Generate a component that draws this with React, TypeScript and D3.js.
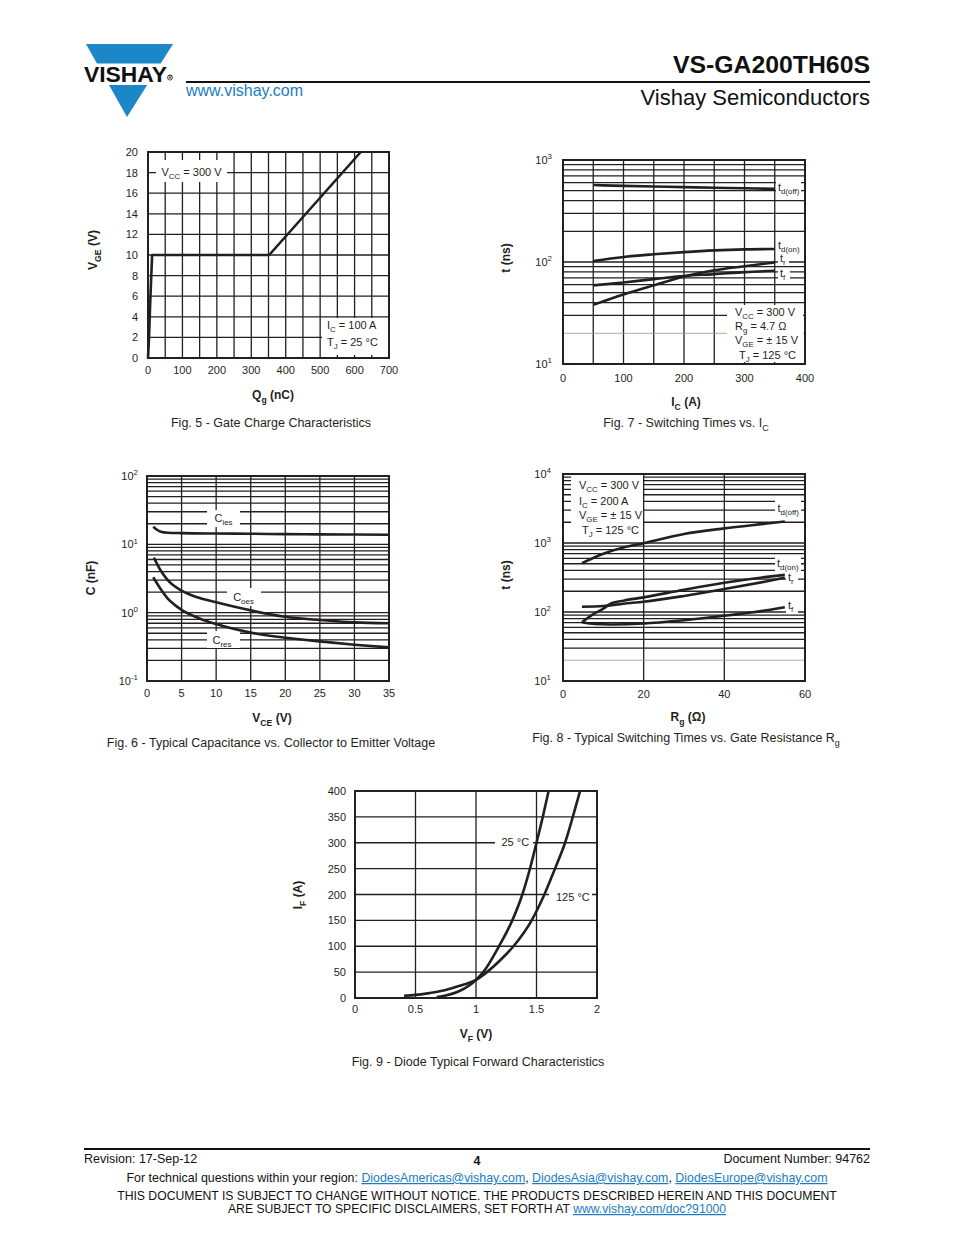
import React from "react";
import * as d3 from "d3";

const FONT = "'Liberation Sans', Arial, Helvetica, sans-serif";
const INK = "#231f20";
const BLUE = "#1b86c8";
const LINK = "#1a7cc2";

// ---------- Fig. 5 Gate charge ----------
const fig5Qg = [0, 3, 6, 12, 352, 618];
const fig5Vge = [0, 2, 5, 10, 10, 20];
const fig5XTicks = [0, 100, 200, 300, 400, 500, 600, 700];
const fig5YTicks = [0, 2, 4, 6, 8, 10, 12, 14, 16, 18, 20];
const fig5XGrid = [50, 100, 150, 200, 250, 300, 350, 400, 450, 500, 550, 600, 650];

// ---------- Fig. 7 Switching times vs IC ----------
const fig7Ic = [50, 100, 150, 200, 250, 300, 350];
const fig7TdOff = [568, 558, 550, 542, 535, 528, 522];
const fig7TdOn = [102, 112, 119, 125, 130, 133, 134];
const fig7Tr = [38, 48, 59, 72, 83, 91, 99];
const fig7Tf = [59, 63, 68, 73, 76, 79.5, 82];
const fig7XTicks = [0, 100, 200, 300, 400];
const fig7XGrid = [50, 100, 150, 200, 250, 300, 350];
const fig7Exps = [1, 2, 3];

// ---------- Fig. 6 Capacitance ----------
const fig6VcesIes = [0.9, 1.5, 2, 3, 5, 10, 15, 20, 25, 30, 35];
const fig6Cies = [18.1, 16.2, 15.3, 14.8, 14.6, 14.4, 14.3, 14.1, 14.0, 13.9, 13.8];
const fig6VceOes = [1, 2, 3, 5, 7.5, 10, 15, 20, 25, 30, 35];
const fig6Coes = [6.4, 4.1, 3.0, 2.1, 1.65, 1.42, 1.08, 0.87, 0.78, 0.72, 0.7];
const fig6VceRes = [0.9, 2, 3, 4, 5, 7.5, 10, 15, 20, 25, 30, 35];
const fig6Cres = [3.3, 2.2, 1.6, 1.3, 1.1, 0.83, 0.68, 0.51, 0.43, 0.38, 0.34, 0.31];
const fig6XTicks = [0, 5, 10, 15, 20, 25, 30, 35];
const fig6XGrid = [5, 10, 15, 20, 25, 30];
const fig6Exps = [-1, 0, 1, 2];

// ---------- Fig. 8 Switching times vs Rg ----------
const fig8RgA = [4.7, 10, 15, 20, 30, 40, 50, 55];
const fig8TdOff = [510, 700, 860, 990, 1350, 1630, 1900, 2050];
const fig8TdOn = [119, 122, 132, 141, 171, 215, 275, 314];
const fig8RgTr = [4.7, 7.5, 10, 12, 15, 20, 30, 40, 50, 55];
const fig8Tr = [71, 93, 112, 134, 146, 163, 210, 265, 320, 345];
const fig8RgTf = [4.7, 8, 12, 20, 30, 40, 50, 55];
const fig8Tf = [71, 67, 66, 68, 76, 88, 105, 117];
const fig8XTicks = [0, 20, 40, 60];
const fig8XGrid = [20, 40];
const fig8Exps = [1, 2, 3, 4];

// ---------- Fig. 9 Diode forward ----------
const fig9Vf25 = [0.675, 0.75, 0.85, 0.95, 1.0, 1.06, 1.19, 1.3, 1.383, 1.446, 1.5, 1.552, 1.6];
const fig9If25 = [2, 5, 12, 25, 35, 50, 100, 150, 200, 250, 300, 350, 400];
const fig9Vf125 = [0.405, 0.5, 0.6, 0.7, 0.8, 0.9, 1.0, 1.09, 1.2, 1.31, 1.46, 1.565, 1.653, 1.736, 1.8, 1.86];
const fig9If125 = [4.4, 6, 9, 13, 19, 26, 35, 50, 73, 100, 150, 200, 250, 300, 350, 400];
const fig9XTicks = [0, 0.5, 1, 1.5, 2];
const fig9YTicks = [0, 50, 100, 150, 200, 250, 300, 350, 400];
const fig9XGrid = [0.5, 1, 1.5];

type Part = string | { sub: string } | { sup: string };

function Rich({ parts, fs }: { parts: Part[]; fs: number }) {
  let shift = 0;
  const out: any[] = [];
  parts.forEach((p, i) => {
    let target = 0;
    let text = "";
    let size = fs;
    if (typeof p === "string") {
      text = p;
    } else if ("sub" in p) {
      text = p.sub;
      target = fs * 0.3;
      size = fs * 0.72;
    } else {
      text = p.sup;
      target = -fs * 0.42;
      size = fs * 0.72;
    }
    const dy = target - shift;
    shift = target;
    out.push(
      <tspan key={i} dy={dy !== 0 ? dy : undefined} fontSize={size}>
        {text}
      </tspan>
    );
  });
  return <>{out}</>;
}

type Ann = {
  box?: [number, number, number, number];
  lines: { x: number; y: number; parts: Part[]; anchor?: string }[];
};

type Series = { x: number[]; y: number[] };

function logGrid(exps: number[]) {
  const vals: number[] = [];
  for (let i = 0; i < exps.length - 1; i++) {
    for (let m = 1; m <= 9; m++) vals.push(m * Math.pow(10, exps[i]));
  }
  return vals;
}

function Panel(props: {
  box: { l: number; r: number; t: number; b: number };
  xDomain: [number, number];
  yDomain: [number, number];
  yLog?: boolean;
  xGrid: number[];
  yGrid: number[];
  greyY?: number[];
  series: Series[];
  linear?: boolean;
  xTicks: number[];
  xTickDy: number;
  yTicks: number[];
  yTickParts: (v: number) => Part[];
  yTickGap: number;
  anns: Ann[];
}) {
  const { l, r, t, b } = props.box;
  const x = d3.scaleLinear().domain(props.xDomain).range([l, r]);
  const y = (props.yLog ? d3.scaleLog() : d3.scaleLinear())
    .domain(props.yDomain)
    .range([b, t]) as any;
  const line = d3
    .line<[number, number]>()
    .x((d) => x(d[0]))
    .y((d) => y(d[1]))
    .curve(props.linear ? d3.curveLinear : d3.curveMonotoneX);
  const grey = props.greyY || [];
  return (
    <g>
      {props.xGrid.map((v) => (
        <line key={"vx" + v} x1={x(v)} x2={x(v)} y1={t} y2={b} stroke={INK} strokeWidth={1.3} />
      ))}
      {props.yGrid
        .filter((v) => v > props.yDomain[0] && v < props.yDomain[1])
        .map((v) => (
          <line
            key={"hy" + v}
            x1={l}
            x2={r}
            y1={y(v)}
            y2={y(v)}
            stroke={grey.includes(v) ? "#9a9a9a" : INK}
            strokeWidth={grey.includes(v) ? 0.8 : 1.3}
          />
        ))}
      {props.anns
        .filter((a) => a.box)
        .map((a, i) => (
          <rect
            key={"bx" + i}
            x={a.box![0]}
            y={a.box![1]}
            width={a.box![2] - a.box![0]}
            height={a.box![3] - a.box![1]}
            fill="#fff"
          />
        ))}
      {props.series.map((s, i) => (
        <path
          key={"s" + i}
          d={line(s.x.map((xv, j) => [xv, s.y[j]] as [number, number])) || ""}
          fill="none"
          stroke={INK}
          strokeWidth={2.6}
          strokeLinejoin="round"
        />
      ))}
      <rect x={l} y={t} width={r - l} height={b - t} fill="none" stroke={INK} strokeWidth={2} />
      {props.xTicks.map((v) => (
        <text key={"xt" + v} x={x(v)} y={b + props.xTickDy} fontSize={11} textAnchor="middle" fill={INK}>
          {String(v)}
        </text>
      ))}
      {props.yTicks.map((v) => (
        <text key={"yt" + v} x={l - props.yTickGap} y={y(v) + 4} fontSize={11} textAnchor="end" fill={INK}>
          <Rich parts={props.yTickParts(v)} fs={11} />
        </text>
      ))}
      {props.anns.map((a, i) =>
        a.lines.map((ln, k) => (
          <text
            key={"at" + i + "_" + k}
            x={ln.x}
            y={ln.y}
            fontSize={11}
            textAnchor={(ln.anchor as any) || "start"}
            fill={INK}
          >
            <Rich parts={ln.parts} fs={11} />
          </text>
        ))
      )}
    </g>
  );
}

function Title({ x, y, parts, rotate, bold, fs }: { x: number; y: number; parts: Part[]; rotate?: boolean; bold?: boolean; fs: number }) {
  return (
    <text
      transform={`translate(${x},${y})${rotate ? " rotate(-90)" : ""}`}
      textAnchor="middle"
      fontSize={fs}
      fontWeight={bold ? "bold" : "normal"}
      fill={INK}
    >
      <Rich parts={parts} fs={fs} />
    </text>
  );
}

const powParts = (v: number): Part[] => ["10", { sup: String(Math.round(Math.log10(v))) }];

export default function App() {
  const expVals = (exps: number[]) => exps.map((e) => Math.pow(10, e));
  // logo geometry
  const lx = (yy: number) => 86 + ((yy - 44) * 41) / 73;
  const rx = (yy: number) => 173 - ((yy - 44) * 46) / 73;
  return (
    <svg
      width={954}
      height={1235}
      style={{ position: "absolute", left: 0, top: 0, background: "#fff" }}
      fontFamily={FONT}
    >
      <rect x={0} y={0} width={954} height={1235} fill="#fff" />
      {/* Header */}
      <polygon points={`86,44 173,44 ${rx(63.5)},63.5 ${lx(63.5)},63.5`} fill={BLUE} />
      <polygon points={`${lx(85)},85 ${rx(85)},85 127,117`} fill={BLUE} />
      <text
        x={84}
        y={82}
        fontSize={22}
        fontWeight="bold"
        fill="#111"
        textLength={83}
        lengthAdjust="spacingAndGlyphs"
      >
        VISHAY
      </text>
      <circle cx={170} cy={77.5} r={2.6} fill="none" stroke="#111" strokeWidth={0.7} />
      <text x={170} y={79.3} fontSize={4.5} fontWeight="bold" textAnchor="middle" fill="#111">R</text>
      <text x={870} y={73} fontSize={24.8} fontWeight="bold" textAnchor="end" fill="#111">
        VS-GA200TH60S
      </text>
      <line x1={186} x2={870} y1={82} y2={82} stroke="#111" strokeWidth={2} />
      <text x={186} y={96} fontSize={16} fill={LINK}>
        www.vishay.com
      </text>
      <text x={870} y={105} fontSize={22} textAnchor="end" fill="#111">
        Vishay Semiconductors
      </text>

      {/* Fig 5 */}
      <Panel
        box={{ l: 148, r: 389, t: 152, b: 358 }}
        xDomain={[0, 700]}
        yDomain={[0, 20]}
        xGrid={fig5XGrid}
        yGrid={fig5YTicks}
        series={[{ x: fig5Qg, y: fig5Vge }]}
        linear
        xTicks={fig5XTicks}
        xTickDy={16}
        yTicks={fig5YTicks}
        yTickParts={(v) => [String(v)]}
        yTickGap={10}
        anns={[
          { box: [156, 160, 227, 182], lines: [{ x: 161.5, y: 175.5, parts: ["V", { sub: "CC" }, " = 300 V"] }] },
          {
            box: [322, 318, 388, 355],
            lines: [
              { x: 327, y: 329, parts: ["I", { sub: "C" }, " = 100 A"] },
              { x: 327, y: 345.5, parts: ["T", { sub: "J" }, " = 25 °C"] },
            ],
          },
        ]}
      />
      <Title x={273} y={399} parts={["Q", { sub: "g" }, " (nC)"]} bold fs={12} />
      <Title x={97} y={250} parts={["V", { sub: "GE" }, " (V)"]} bold rotate fs={12} />
      <Title x={271} y={427} parts={["Fig. 5 - Gate Charge Characteristics"]} fs={12.5} />

      {/* Fig 7 */}
      <Panel
        box={{ l: 563, r: 805, t: 160, b: 364 }}
        xDomain={[0, 400]}
        yDomain={[10, 1000]}
        yLog
        xGrid={fig7XGrid}
        yGrid={logGrid(fig7Exps)}
        greyY={[20]}
        series={[
          { x: fig7Ic, y: fig7TdOff },
          { x: fig7Ic, y: fig7TdOn },
          { x: fig7Ic, y: fig7Tr },
          { x: fig7Ic, y: fig7Tf },
        ]}
        xTicks={fig7XTicks}
        xTickDy={18}
        yTicks={expVals(fig7Exps)}
        yTickParts={powParts}
        yTickGap={11}
        anns={[
          { box: [776, 180, 801, 196], lines: [{ x: 778, y: 191, parts: ["t", { sub: "d(off)" }] }] },
          { box: [776, 238, 801, 254], lines: [{ x: 778, y: 249, parts: ["t", { sub: "d(on)" }] }] },
          { box: [778, 254, 789, 266], lines: [{ x: 780, y: 262, parts: ["t", { sub: "r" }] }] },
          { box: [778, 268, 790, 282], lines: [{ x: 780, y: 277, parts: ["t", { sub: "f" }] }] },
          {
            box: [727, 305, 803, 362],
            lines: [
              { x: 735, y: 315.5, parts: ["V", { sub: "CC" }, " = 300 V"] },
              { x: 735, y: 329.5, parts: ["R", { sub: "g" }, " = 4.7 Ω"] },
              { x: 735, y: 344, parts: ["V", { sub: "GE" }, " = ± 15 V"] },
              { x: 739, y: 359, parts: ["T", { sub: "J" }, " = 125 °C"] },
            ],
          },
        ]}
      />
      <Title x={686} y={406} parts={["I", { sub: "C" }, " (A)"]} bold fs={12} />
      <Title x={510} y={258} parts={["t (ns)"]} bold rotate fs={12} />
      <Title x={686} y={427} parts={["Fig. 7 - Switching Times vs. I", { sub: "C" }]} fs={12.5} />

      {/* Fig 6 */}
      <Panel
        box={{ l: 147, r: 389, t: 476, b: 681 }}
        xDomain={[0, 35]}
        yDomain={[0.1, 100]}
        yLog
        xGrid={fig6XGrid}
        yGrid={logGrid(fig6Exps)}
        series={[
          { x: fig6VcesIes, y: fig6Cies },
          { x: fig6VceOes, y: fig6Coes },
          { x: fig6VceRes, y: fig6Cres },
        ]}
        xTicks={fig6XTicks}
        xTickDy={16}
        yTicks={expVals(fig6Exps)}
        yTickParts={powParts}
        yTickGap={9}
        anns={[
          { box: [207, 510, 240, 527], lines: [{ x: 223.5, y: 522, parts: ["C", { sub: "ies" }], anchor: "middle" }] },
          { box: [227, 588, 261, 606], lines: [{ x: 243.5, y: 600.5, parts: ["C", { sub: "oes" }], anchor: "middle" }] },
          { box: [207, 631, 240, 648], lines: [{ x: 222, y: 643.5, parts: ["C", { sub: "res" }], anchor: "middle" }] },
        ]}
      />
      <Title x={272} y={722} parts={["V", { sub: "CE" }, " (V)"]} bold fs={12} />
      <Title x={95} y={578} parts={["C (nF)"]} bold rotate fs={12} />
      <Title x={271} y={747} parts={["Fig. 6 - Typical Capacitance vs. Collector to Emitter Voltage"]} fs={12.5} />

      {/* Fig 8 */}
      <Panel
        box={{ l: 563, r: 805, t: 474, b: 681 }}
        xDomain={[0, 60]}
        yDomain={[10, 10000]}
        yLog
        xGrid={fig8XGrid}
        yGrid={logGrid(fig8Exps)}
        greyY={[20]}
        series={[
          { x: fig8RgA, y: fig8TdOff },
          { x: fig8RgA, y: fig8TdOn },
          { x: fig8RgTr, y: fig8Tr },
          { x: fig8RgTf, y: fig8Tf },
        ]}
        xTicks={fig8XTicks}
        xTickDy={17}
        yTicks={expVals(fig8Exps)}
        yTickParts={powParts}
        yTickGap={12}
        anns={[
          {
            box: [571, 476, 643, 541],
            lines: [
              { x: 579, y: 489, parts: ["V", { sub: "CC" }, " = 300 V"] },
              { x: 579, y: 504.5, parts: ["I", { sub: "C" }, " = 200 A"] },
              { x: 579, y: 519, parts: ["V", { sub: "GE" }, " = ± 15 V"] },
              { x: 582, y: 534, parts: ["T", { sub: "J" }, " = 125 °C"] },
            ],
          },
          { box: [775, 500, 801, 516], lines: [{ x: 777.5, y: 511.5, parts: ["t", { sub: "d(off)" }] }] },
          { box: [775, 556, 801, 572], lines: [{ x: 777, y: 566.5, parts: ["t", { sub: "d(on)" }] }] },
          { box: [786, 572, 798, 586], lines: [{ x: 788, y: 581, parts: ["t", { sub: "r" }] }] },
          { box: [786, 600, 798, 614], lines: [{ x: 788, y: 609, parts: ["t", { sub: "f" }] }] },
        ]}
      />
      <Title x={688} y={721} parts={["R", { sub: "g" }, " (Ω)"]} bold fs={12} />
      <Title x={510} y={575} parts={["t (ns)"]} bold rotate fs={12} />
      <Title x={686} y={742} parts={["Fig. 8 - Typical Switching Times vs. Gate Resistance R", { sub: "g" }]} fs={12.5} />

      {/* Fig 9 */}
      <Panel
        box={{ l: 355, r: 597, t: 791, b: 998 }}
        xDomain={[0, 2]}
        yDomain={[0, 400]}
        xGrid={fig9XGrid}
        yGrid={fig9YTicks}
        series={[
          { x: fig9Vf25, y: fig9If25 },
          { x: fig9Vf125, y: fig9If125 },
        ]}
        xTicks={fig9XTicks}
        xTickDy={15}
        yTicks={fig9YTicks}
        yTickParts={(v) => [String(v)]}
        yTickGap={9}
        anns={[
          { box: [495, 834, 533, 851], lines: [{ x: 501.5, y: 846, parts: ["25 °C"] }] },
          { box: [549, 888, 592, 905], lines: [{ x: 556, y: 900.5, parts: ["125 °C"] }] },
        ]}
      />
      <Title x={476} y={1038} parts={["V", { sub: "F" }, " (V)"]} bold fs={12} />
      <Title x={302} y={895} parts={["I", { sub: "F" }, " (A)"]} bold rotate fs={12} />
      <Title x={478} y={1066} parts={["Fig. 9 - Diode Typical Forward Characteristics"]} fs={12.5} />

      {/* Footer */}
      <line x1={84} x2={870} y1={1149} y2={1149} stroke="#111" strokeWidth={2} />
      <text x={84} y={1163} fontSize={12.5} fill="#111">Revision: 17-Sep-12</text>
      <text x={477} y={1165} fontSize={12.5} fontWeight="bold" textAnchor="middle" fill="#111">4</text>
      <text x={870} y={1163} fontSize={12.5} textAnchor="end" fill="#111">Document Number: 94762</text>
      <text x={477} y={1182} fontSize={12.4} textAnchor="middle" fill="#111">
        <tspan>For technical questions within your region: </tspan>
        <tspan fill={LINK} textDecoration="underline">DiodesAmericas@vishay.com</tspan>
        <tspan>, </tspan>
        <tspan fill={LINK} textDecoration="underline">DiodesAsia@vishay.com</tspan>
        <tspan>, </tspan>
        <tspan fill={LINK} textDecoration="underline">DiodesEurope@vishay.com</tspan>
      </text>
      <text x={477} y={1200} fontSize={12.2} textAnchor="middle" fill="#111">
        THIS DOCUMENT IS SUBJECT TO CHANGE WITHOUT NOTICE. THE PRODUCTS DESCRIBED HEREIN AND THIS DOCUMENT
      </text>
      <text x={477} y={1213} fontSize={12.2} textAnchor="middle" fill="#111">
        <tspan>ARE SUBJECT TO SPECIFIC DISCLAIMERS, SET FORTH AT </tspan>
        <tspan fill={LINK} textDecoration="underline">www.vishay.com/doc?91000</tspan>
      </text>
    </svg>
  );
}
